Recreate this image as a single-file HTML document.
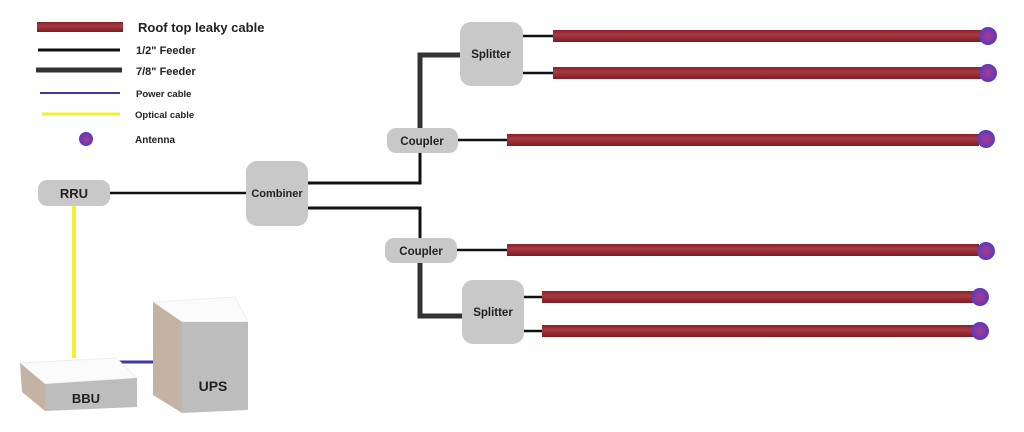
<!DOCTYPE html>
<html><head><meta charset="utf-8"><style>
body{margin:0;background:#fff}
svg text{font-family:"Liberation Sans","DejaVu Sans",sans-serif;font-weight:bold;fill:#222}
</style></head><body>
<svg width="1024" height="427" viewBox="0 0 1024 427" xmlns="http://www.w3.org/2000/svg">
<defs>
<linearGradient id="cab" x1="0" y1="0" x2="0" y2="1">
<stop offset="0" stop-color="#8a2028"/><stop offset="0.4" stop-color="#a83a42"/><stop offset="1" stop-color="#7a1c22"/>
</linearGradient>
<radialGradient id="ant"><stop offset="0" stop-color="#b03a8a"/><stop offset="1" stop-color="#5a3ac0"/></radialGradient>
</defs>
<!-- legend -->
<rect x="37" y="22" width="86" height="10" fill="url(#cab)"/>
<text x="138" y="32" font-size="13">Roof top leaky cable</text>
<line x1="38" y1="50" x2="120" y2="50" stroke="#111" stroke-width="3"/>
<text x="136" y="54" font-size="11">1/2" Feeder</text>
<line x1="36" y1="70" x2="122" y2="70" stroke="#333" stroke-width="5"/>
<text x="136" y="75" font-size="11">7/8" Feeder</text>
<line x1="40" y1="93" x2="120" y2="93" stroke="#3a3aa0" stroke-width="2"/>
<text x="136" y="97" font-size="9.5">Power cable</text>
<line x1="42" y1="114" x2="120" y2="114" stroke="#f0f030" stroke-width="3"/>
<text x="135" y="118" font-size="9.5">Optical cable</text>
<circle cx="86" cy="139" r="7" fill="url(#ant)"/>
<text x="135" y="143" font-size="10">Antenna</text>

<!-- lines -->
<line x1="74" y1="206" x2="74" y2="358" stroke="#f5f030" stroke-width="4"/>
<line x1="110" y1="193" x2="246" y2="193" stroke="#111" stroke-width="2.5"/>
<polyline points="308,183 420,183 420,130" fill="none" stroke="#111" stroke-width="3"/>
<polyline points="420,130 420,55 460,55" fill="none" stroke="#333" stroke-width="5"/>
<polyline points="308,208 420,208 420,240" fill="none" stroke="#111" stroke-width="3"/>
<polyline points="420,262 420,316 462,316" fill="none" stroke="#333" stroke-width="5"/>
<line x1="523" y1="36" x2="553" y2="36" stroke="#111" stroke-width="2.5"/>
<line x1="523" y1="73" x2="553" y2="73" stroke="#111" stroke-width="2.5"/>
<line x1="458" y1="140" x2="507" y2="140" stroke="#111" stroke-width="2.5"/>
<line x1="457" y1="250" x2="507" y2="250" stroke="#111" stroke-width="2.5"/>
<line x1="524" y1="297" x2="542" y2="297" stroke="#111" stroke-width="2.5"/>
<line x1="524" y1="331" x2="542" y2="331" stroke="#111" stroke-width="2.5"/>
<line x1="116" y1="362" x2="153" y2="362" stroke="#3a3aa0" stroke-width="3"/>

<!-- cables -->
<rect x="553" y="30" width="428" height="12" fill="url(#cab)"/>
<rect x="553" y="67" width="428" height="12" fill="url(#cab)"/>
<rect x="507" y="134" width="472" height="12" fill="url(#cab)"/>
<rect x="507" y="244" width="472" height="12" fill="url(#cab)"/>
<rect x="542" y="291" width="431" height="12" fill="url(#cab)"/>
<rect x="542" y="325" width="431" height="12" fill="url(#cab)"/>
<circle cx="988" cy="36" r="9" fill="url(#ant)"/>
<circle cx="988" cy="73" r="9" fill="url(#ant)"/>
<circle cx="986" cy="139" r="9" fill="url(#ant)"/>
<circle cx="986" cy="251" r="9" fill="url(#ant)"/>
<circle cx="980" cy="297" r="9" fill="url(#ant)"/>
<circle cx="980" cy="331" r="9" fill="url(#ant)"/>

<!-- nodes -->
<rect x="38" y="180" width="72" height="26" rx="9" fill="#c8c8c8"/>
<text x="74" y="198" font-size="13" text-anchor="middle">RRU</text>
<rect x="246" y="161" width="62" height="65" rx="11" fill="#c8c8c8"/>
<text x="277" y="197" font-size="11" text-anchor="middle">Combiner</text>
<rect x="387" y="128" width="71" height="25" rx="9" fill="#c8c8c8"/>
<text x="422" y="145" font-size="11.5" text-anchor="middle">Coupler</text>
<rect x="385" y="238" width="72" height="25" rx="9" fill="#c8c8c8"/>
<text x="421" y="255" font-size="11.5" text-anchor="middle">Coupler</text>
<rect x="460" y="22" width="63" height="64" rx="11" fill="#c8c8c8"/>
<text x="491" y="58" font-size="11.5" text-anchor="middle">Splitter</text>
<rect x="462" y="280" width="62" height="64" rx="11" fill="#c8c8c8"/>
<text x="493" y="316" font-size="11.5" text-anchor="middle">Splitter</text>

<!-- BBU -->
<polygon points="20,363 116,358 137,378 45,384" fill="#fbfbfb" stroke="#eee"/>
<polygon points="20,363 45,384 45,411 22,392" fill="#c4b2a2"/>
<polygon points="45,384 137,378 137,407 45,411" fill="#bdbdbd"/>
<text x="86" y="403" font-size="13" text-anchor="middle">BBU</text>
<!-- UPS -->
<polygon points="153,302 235,297 248,322 182,322" fill="#fbfbfb" stroke="#eee"/>
<polygon points="153,302 182,322 182,413 153,395" fill="#c4b2a2"/>
<polygon points="182,322 248,322 248,410 182,413" fill="#bdbdbd"/>
<text x="213" y="391" font-size="14" text-anchor="middle">UPS</text>
</svg>
</body></html>
